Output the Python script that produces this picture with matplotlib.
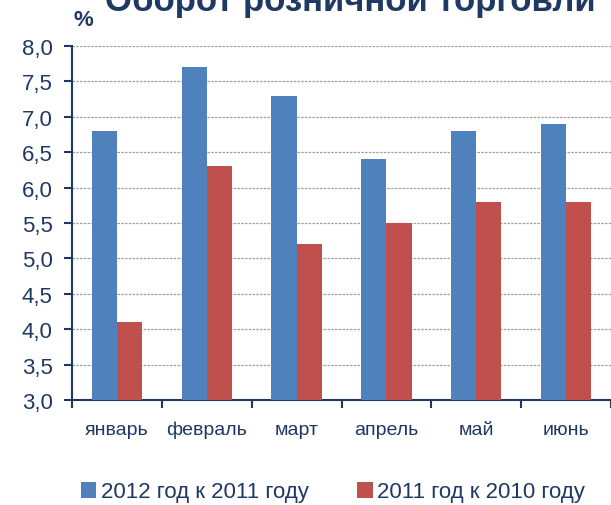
import matplotlib
matplotlib.use("Agg")
import matplotlib.pyplot as plt
import numpy as np
from matplotlib import font_manager

categories = ["январь", "февраль", "март", "апрель", "май", "июнь"]
series_2012 = [6.8, 7.7, 7.3, 6.4, 6.8, 6.9]
series_2011 = [4.1, 6.3, 5.2, 5.5, 5.8, 5.8]
labels = ["2012 год к 2011 году", "2011 год к 2010 году"]
yticks = [3.0, 3.5, 4.0, 4.5, 5.0, 5.5, 6.0, 6.5, 7.0, 7.5, 8.0]

names = {f.name for f in font_manager.fontManager.ttflist}
fam = "Liberation Sans Narrow" if "Liberation Sans Narrow" in names else "Liberation Sans"
plt.rcParams['font.family'] = [fam, 'DejaVu Sans']

navy = "#1F3864"
W, H = 611, 506
fig = plt.figure(figsize=(W/100, H/100), dpi=100)
ax = fig.add_axes([72/W, 1-401/H, (611-72)/W, (401-47)/H])

x = np.arange(len(categories))
bw = 0.28
ax.bar(x - bw/2, series_2012, bw, color="#4F81BD", label=labels[0], zorder=3)
ax.bar(x + bw/2, series_2011, bw, color="#C0504D", label=labels[1], zorder=3)

ax.set_ylim(3.0, 8.0)
ax.set_xlim(-0.5, len(categories) - 0.5)
ax.set_yticks(yticks)
ax.set_yticklabels([f"{v:.1f}".replace(".", ",") for v in yticks], fontsize=16, color=navy)
ax.set_xticks(x)
ax.set_xticklabels(categories, fontsize=14, color=navy)
ax.tick_params(axis='x', which='major', length=0, pad=15)
ax.set_xticks(np.arange(-0.5, len(categories)), minor=True)
ax.tick_params(axis='x', which='minor', length=6, width=1.5, color=navy, direction='out')
ax.tick_params(axis='y', length=6, width=1.5, color=navy, direction='out', pad=8)

ax.grid(axis='y', linestyle=(0, (2, 1)), color="#A0A0A0", linewidth=0.9, zorder=0)
for s in ["top", "right"]:
    ax.spines[s].set_visible(False)
for s in ["left", "bottom"]:
    ax.spines[s].set_color(navy)
    ax.spines[s].set_linewidth(1.5)

fig.text(350/W, 1-11/H, "Оборот розничной торговли", ha='center', va='baseline',
         fontsize=25, fontweight='bold', color=navy)
fig.text(83/W, 1-21/H, "%", ha='center', va='center', fontsize=16, fontweight='bold', color=navy)

fig.legend(loc='center', bbox_to_anchor=(333/W, 1-493/H), ncol=2, frameon=False,
           fontsize=16, handlelength=0.7, handleheight=0.7, handletextpad=0.2,
           columnspacing=2.2, labelcolor=navy)

fig.savefig("out.png", dpi=100)
